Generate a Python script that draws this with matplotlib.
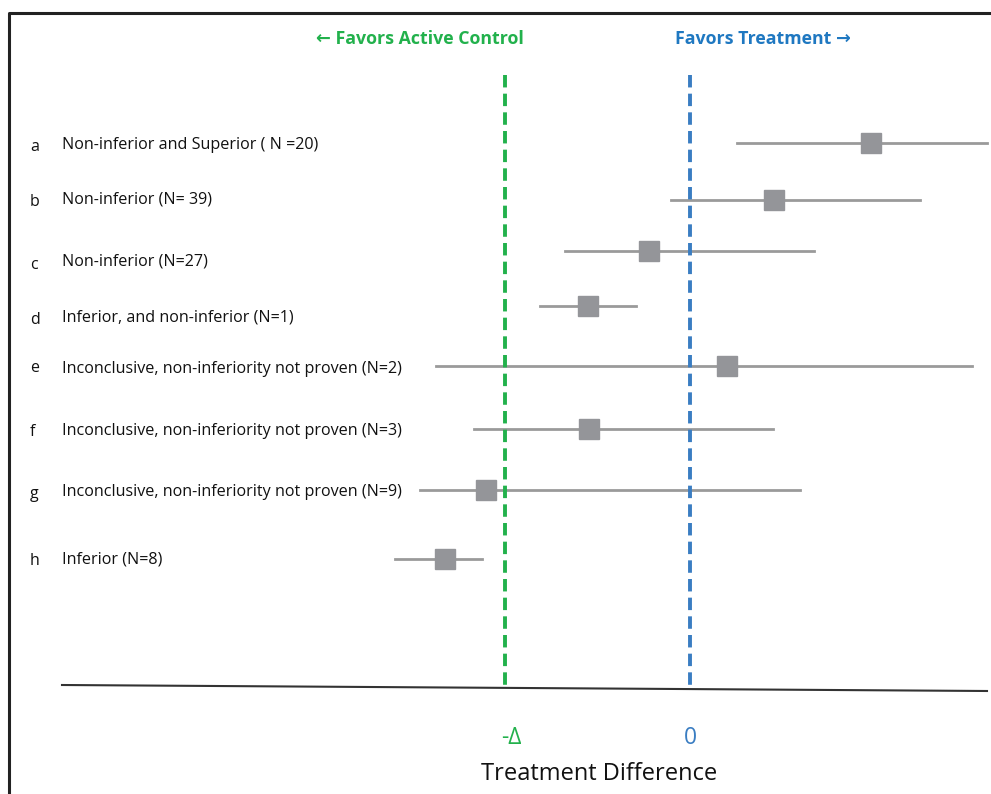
import matplotlib.pyplot as plt
from matplotlib.lines import Line2D

# rows of the non-inferiority diagram (x in units of delta, 0 = no difference)
letters = ['a', 'b', 'c', 'd', 'e', 'f', 'g', 'h']
labels = ['Non-inferior and Superior ( N =20)',
          'Non-inferior (N= 39)',
          'Non-inferior (N=27)',
          'Inferior, and non-inferior (N=1)',
          'Inconclusive, non-inferiority not proven (N=2)',
          'Inconclusive, non-inferiority not proven (N=3)',
          'Inconclusive, non-inferiority not proven (N=9)',
          'Inferior (N=8)']
est = [0.978, 0.454, -0.222, -0.551, 0.200, -0.546, -1.103, -1.324]
lo = [0.254, -0.103, -0.676, -0.811, -1.373, -1.168, -1.459, -1.595]
hi = [1.605, 1.243, 0.670, -0.292, 1.524, 0.449, 0.595, -1.124]
row_y = [143, 200, 251, 306, 366, 429, 490, 559]
label_y = [143, 197, 260, 316, 367, 429, 490, 558]
letter_y = [145, 200, 263, 318, 366, 430, 492, 559]
margin = -1.0

green = '#22B14C'
blue = '#3A7DC2'
grey = '#949599'

plt.rcParams['font.family'] = ['Open Sans', 'DejaVu Sans']

fig = plt.figure(figsize=(9.91, 7.94), dpi=100)
ax = fig.add_axes([0, 0, 1, 1])
ax.set_xlim(-690 / 185, 301 / 185)
ax.set_ylim(794, 0)
ax.axis('off')

# outer frame (clipped at right and bottom)
ax.plot([9 / 991, 9 / 991, 1.0], [0.0, 1 - 13 / 794, 1 - 13 / 794],
        transform=ax.transAxes, color='#222222', lw=2.2, solid_capstyle='butt')

for i in range(len(letters)):
    y = row_y[i]
    ax.plot([lo[i], hi[i]], [y, y], color='#9A9A9A', lw=2, zorder=2)
    ax.plot(est[i], y, marker='s', ms=15, color=grey, mec=grey, zorder=3)
    ax.text(30 / 991, letter_y[i] + 2, letters[i], transform=ax.get_yaxis_transform(),
            fontsize=11.5, ha='left', va='center', color='#111111')
    ax.text(62 / 991, label_y[i] + 2, labels[i], transform=ax.get_yaxis_transform(),
            fontsize=11.6, ha='left', va='center', color='#111111')

# reference lines
for xv, c in [(margin, green), (0.0, blue)]:
    ax.plot([xv, xv], [75, 686], color=c, lw=2.8, ls=(0, (3.2, 1.6)), zorder=4)

# baseline
ax.add_line(Line2D([62 / 991, 987 / 991], [1 - 685 / 794, 1 - 691 / 794],
                   transform=ax.transAxes, color='#333333', lw=1.5))

ax.text(margin + 0.035, 738, '-\u0394', color=green, fontsize=16.5, ha='center', va='center')
ax.text(0.0, 738, '0', color=blue, fontsize=16.5, ha='center', va='center')
ax.text(599 / 991, 1 - 774 / 794, 'Treatment Difference', transform=ax.transAxes,
        fontsize=17, ha='center', va='center', color='#111111')

ax.text(420 / 991, 1 - 39 / 794, '\u2190 Favors Active Control', transform=ax.transAxes,
        fontsize=12.8, fontweight='bold', color=green, ha='center', va='center')
ax.text(763 / 991, 1 - 39 / 794, 'Favors Treatment \u2192', transform=ax.transAxes,
        fontsize=12.8, fontweight='bold', color='#1F78C1', ha='center', va='center')

fig.savefig('out.png', dpi=100)
